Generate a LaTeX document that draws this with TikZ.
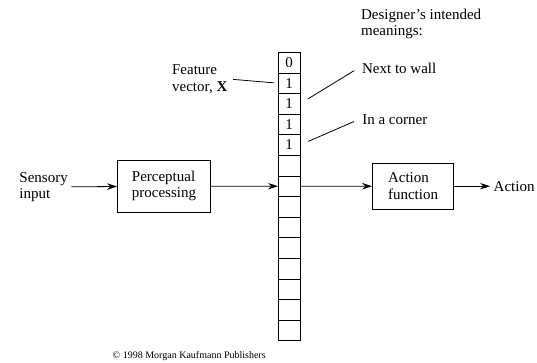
\documentclass[tikz,border=0pt]{standalone}
\usepackage{fontspec}
\setmainfont{Liberation Serif}
\usetikzlibrary{arrows.meta,positioning}
\tikzset{%
    cell/.style={%
        rectangle,draw,minimum width=22pt,minimum height=20.6pt,
        inner sep=0pt,outer sep=0pt
    }
}

\begin{document}
\begin{tikzpicture}[x=1pt,y=-1pt,->,>={Stealth[length=10pt,width=6.5pt]},
  line width=0.8pt,font=\fontsize{15}{16.3}\selectfont,
  box node/.style={rectangle,draw,align=left,minimum width=93pt,minimum height=52.5pt},
  label node/.style={align=left,anchor=west}]
  \useasboundingbox (0,0) rectangle (537,362);

  % feature vector
  \foreach \v [count=\i] in {0,1,1,1,1,{},{},{},{},{},{},{},{},{}}
    \node[cell] (c\i) at (289,{52.3+20.6*(\i-0.5)}) {\v};

  \node[label node] (sensor) at (15.7,187) {Sensory\\input};
  \node[box node] (percept) at (164,186.2) {Perceptual\\processing};
  \node[box node,minimum width=81pt,minimum height=46.6pt] (act) at (413,186.2) {Action\\function};
  \node[label node] (action) at (490,186.2) {Action};

  \node[label node] (feat) at (168.4,79.2) {Feature\\vector, \textbf{X}};
  \node[label node] (design) at (357.4,23.6) {Designer's intended\\meanings:};
  \node[label node] (wall) at (358.4,68) {Next to wall};
  \node[label node] (corner) at (358.6,119.5) {In a corner};

  \node[font=\fontsize{10}{12}\selectfont] (copy) at (189.2,356.5)
    {\textcopyright{} 1998 Morgan Kaufmann Publishers};

  \path
    (sensor) edge (percept)
    (percept) edge (c7)
    (c7) edge (act)
    (act) edge (action);
  \draw[-,shorten <=2pt,shorten >=4pt] (feat.east) -- (c2.west);
  \draw[-,shorten <=9pt,shorten >=5pt] (c3.east) -- (wall.west);
  \draw[-,shorten <=9pt,shorten >=5pt] (c5.east) -- (corner.west);
\end{tikzpicture}
\end{document}
